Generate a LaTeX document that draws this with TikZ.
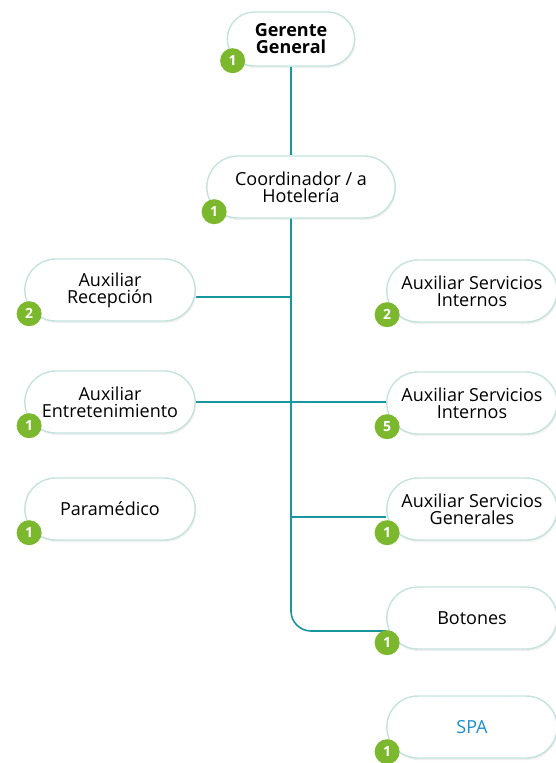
\documentclass[tikz,border=0pt]{standalone}
\usepackage{fontspec}
\setmainfont{Open Sans}
\usetikzlibrary{shapes.misc,shadows}
\definecolor{tealline}{RGB}{24,150,160}
\definecolor{pillline}{RGB}{196,226,222}
\definecolor{badgegreen}{RGB}{124,184,46}
\definecolor{spablue}{RGB}{26,143,208}
\begin{document}
\begin{tikzpicture}[x=1pt,y=-1pt,
  pill/.style={rounded rectangle,draw=pillline,line width=1.4pt,fill=white,
    minimum width=177pt,minimum height=62pt,align=center,
    font=\fontsize{18}{17}\selectfont,
    drop shadow={shadow xshift=1pt,shadow yshift=-2pt,opacity=0.12}},
  badge/.style={circle,fill=badgegreen,text=white,minimum size=25pt,inner sep=0pt,
    font=\fontsize{14}{14}\selectfont\bfseries},
  conn/.style={tealline,line width=1.6pt}]
\useasboundingbox (0,0) rectangle (556,763);
\node[pill,minimum width=134pt,minimum height=54pt,font=\fontsize{18}{17}\selectfont\bfseries] (ger) at (291,39) {Gerente\\General};
\node[pill,minimum width=195pt] (coord) at (301,187) {Coordinador / a\\Hotelería};
\node[pill] (rec) at (110,290) {Auxiliar\\Recepción};
\node[pill] (int1) at (472,291) {Auxiliar Servicios\\Internos};
\node[pill] (ent) at (110,402) {Auxiliar\\Entretenimiento};
\node[pill] (int2) at (472,403) {Auxiliar Servicios\\Internos};
\node[pill] (para) at (110,509) {Paramédico};
\node[pill] (gen) at (472,509) {Auxiliar Servicios\\Generales};
\node[pill] (bot) at (472,618) {Botones};
\node[pill,text=spablue] (spa) at (472,727) {SPA};
\draw[conn] (ger.south) -- (ger |- coord.north);
\draw[conn,rounded corners=20pt] (ger |- coord.south) |- ([yshift=-13pt]bot.west);
\draw[conn] ([yshift=-7pt]rec.east) -- ([yshift=-7pt]rec.east -| ger);
\draw[conn] (ent.east) -- (ent.east -| int2.west);
\draw[conn] ([yshift=-8pt]gen.west -| ger) -- ([yshift=-8pt]gen.west);
\node[badge] (bger) at ([xshift=6pt,yshift=6pt]ger.west |- ger.south) {1};
\node[badge] (bcoord) at ([xshift=8pt,yshift=7pt]coord.west |- coord.south) {1};
\node[badge] (brec) at ([xshift=5pt,yshift=8pt]rec.west |- rec.south) {2};
\node[badge] (bint1) at ([xshift=1pt,yshift=8pt]int1.west |- int1.south) {2};
\node[badge] (bent) at ([xshift=5pt,yshift=8pt]ent.west |- ent.south) {1};
\node[badge] (bint2) at ([xshift=1pt,yshift=8pt]int2.west |- int2.south) {5};
\node[badge] (bpara) at ([xshift=5pt,yshift=8pt]para.west |- para.south) {1};
\node[badge] (bgen) at ([xshift=1pt,yshift=8pt]gen.west |- gen.south) {1};
\node[badge] (bbot) at ([xshift=1pt,yshift=7pt]bot.west |- bot.south) {1};
\node[badge] (bspa) at ([xshift=1pt,yshift=7pt]spa.west |- spa.south) {1};
\end{tikzpicture}
\end{document}
